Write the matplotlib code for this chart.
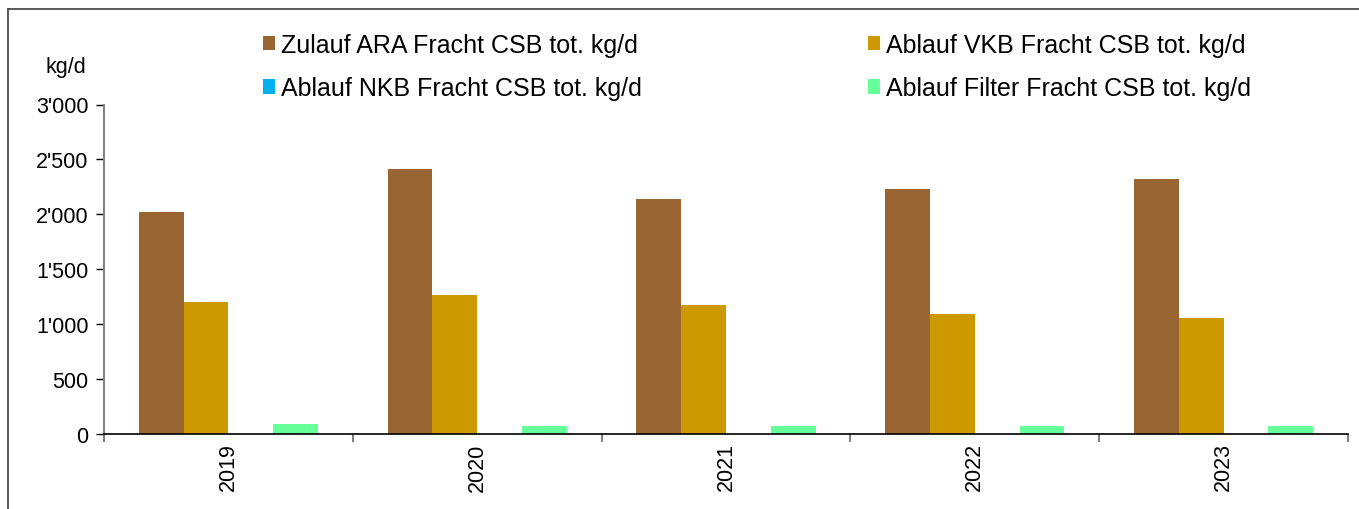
import matplotlib
matplotlib.use("Agg")
import matplotlib.pyplot as plt
import numpy as np
from matplotlib.ticker import FuncFormatter, FixedLocator
from matplotlib.patches import Patch
from matplotlib.lines import Line2D

plt.rcParams['font.family'] = ['Liberation Sans', 'DejaVu Sans']

years = ["2019", "2020", "2021", "2022", "2023"]
zulauf_ara = [2025, 2410, 2140, 2232, 2320]
ablauf_vkb = [1205, 1262, 1171, 1097, 1058]
ablauf_nkb = [0, 0, 0, 0, 0]
ablauf_filter = [90, 75, 75, 75, 75]

series_names = [
    "Zulauf ARA Fracht CSB tot. kg/d",
    "Ablauf VKB Fracht CSB tot. kg/d",
    "Ablauf NKB Fracht CSB tot. kg/d",
    "Ablauf Filter Fracht CSB tot. kg/d",
]
series_values = [zulauf_ara, ablauf_vkb, ablauf_nkb, ablauf_filter]
colors = ["#996633", "#CC9900", "#00B0F0", "#66FF99"]

fig = plt.figure(figsize=(13.59, 5.10), dpi=100)
ax = fig.add_axes([104 / 1359, 1 - 435 / 510, (1348 - 104) / 1359, (435 - 105.5) / 510])

x = np.arange(len(years))
w = 0.18
for i, (vals, col) in enumerate(zip(series_values, colors)):
    ax.bar(x + (i - 1.5) * w, vals, width=w, color=col, edgecolor="none", zorder=2)

ax.set_xlim(-0.5, len(years) - 0.5)
ax.set_ylim(0, 3000)
ax.set_yticks(np.arange(0, 3001, 500))
ax.yaxis.set_major_formatter(FuncFormatter(lambda v, p: f"{int(v):,}".replace(",", "'")))
ax.set_xticks(x)
ax.set_xticklabels(years, rotation=90, fontsize=15.5)
ax.xaxis.set_minor_locator(FixedLocator(np.arange(-0.5, len(years), 1.0)))
ax.tick_params(axis="x", which="major", length=0, pad=6)
ax.tick_params(axis="x", which="minor", length=6, width=1.5, color="#808080", direction="out")
ax.tick_params(axis="y", length=6, width=1, color="#000000", labelsize=15.5, pad=5)

for s in ("top", "right"):
    ax.spines[s].set_visible(False)
ax.spines["left"].set_color("#808080")
ax.spines["left"].set_linewidth(1.5)
ax.spines["bottom"].set_color("#000000")
ax.spines["bottom"].set_linewidth(1.2)

fig.text(66 / 1359, 1 - 67 / 510, "kg/d", fontsize=15.5, ha="center", va="center")

handles = [Patch(facecolor=c, edgecolor="none") for c in colors]
order = [0, 2, 1, 3]
fig.legend([handles[i] for i in order], [series_names[i] for i in order],
           ncol=2, loc="upper left", bbox_to_anchor=(240 / 1359, 1 - 11 / 510),
           frameon=False, fontsize=18, handlelength=0.5, handleheight=0.5,
           handletextpad=0.25, columnspacing=9.02, labelspacing=0.79)

# outer chart frame (left and top edges)
fig.add_artist(Line2D([7.5 / 1359, 7.5 / 1359], [0, 1 - 9.5 / 510], transform=fig.transFigure,
                      color="#404040", linewidth=1.2))
fig.add_artist(Line2D([7.5 / 1359, 1], [1 - 9.5 / 510, 1 - 9.5 / 510], transform=fig.transFigure,
                      color="#404040", linewidth=1.2))

fig.savefig("out.png", dpi=100)
